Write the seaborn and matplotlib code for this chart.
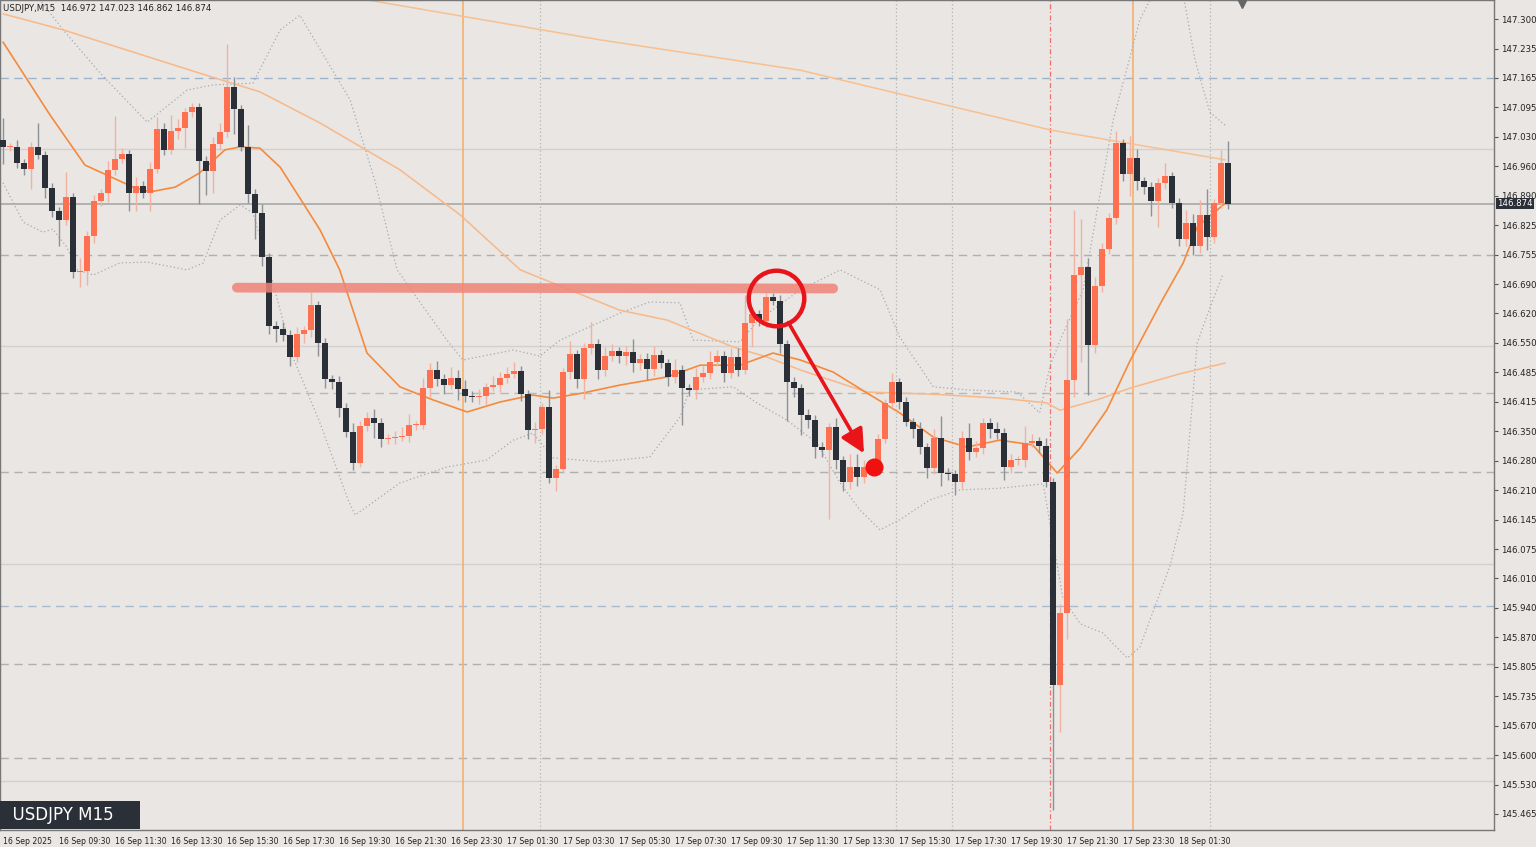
import matplotlib
matplotlib.use("Agg")
import matplotlib.pyplot as plt
import seaborn as sns
import numpy as np
import pandas as pd
from matplotlib.patches import FancyArrowPatch

first_open = 147.021
closes = [147.005,147.005,146.968,146.954,147.005,146.986,146.910,146.857,146.836,146.889,146.716,146.718,146.799,146.880,146.898,146.952,
146.977,146.988,146.898,146.915,146.898,146.954,147.046,146.998,147.042,147.049,147.085,147.097,146.972,146.949,147.012,147.039,
147.143,147.092,147.005,146.896,146.852,146.751,146.592,146.585,146.571,146.520,146.573,146.582,146.640,146.552,146.469,146.462,
146.402,146.347,146.275,146.361,146.379,146.368,146.331,146.333,146.335,146.338,146.363,146.363,146.448,146.490,146.469,146.455,
146.471,146.446,146.430,146.427,146.430,146.451,146.455,146.471,146.481,146.488,146.434,146.351,146.354,146.404,146.241,146.261,
146.485,146.527,146.469,146.541,146.550,146.490,146.522,146.534,146.522,146.531,146.506,146.515,146.492,146.525,146.506,146.474,
146.490,146.448,146.444,146.474,146.483,146.508,146.522,146.483,146.520,146.490,146.598,146.619,146.603,146.658,146.649,146.550,
146.462,146.448,146.386,146.375,146.312,146.305,146.358,146.282,146.231,146.266,146.243,146.266,146.271,146.331,146.414,146.462,
146.416,146.370,146.354,146.312,146.264,146.333,146.252,146.250,146.231,146.333,146.301,146.310,146.368,146.354,146.345,146.266,
146.282,146.282,146.321,146.326,146.314,146.231,145.763,145.929,146.467,146.709,146.728,146.548,146.684,146.769,146.841,147.014,
146.942,146.979,146.926,146.912,146.880,146.922,146.938,146.875,146.792,146.829,146.776,146.848,146.797,146.875,146.968,146.874]

upper_wick = [0.050,0.010,0.015,0.010,0.012,0.055,0.010,0.012,0.010,0.058,0.010,0.030,0.012,0.015,0.010,0.020,
0.100,0.014,0.010,0.020,0.012,0.015,0.028,0.015,0.037,0.020,0.010,0.010,0.010,0.012,0.015,0.020,
0.100,0.023,0.010,0.050,0.012,0.020,0.010,0.012,0.015,0.012,0.015,0.010,0.030,0.010,0.012,0.010,
0.015,0.012,0.020,0.010,0.015,0.020,0.012,0.010,0.015,0.020,0.025,0.010,0.023,0.015,0.020,0.012,
0.025,0.020,0.020,0.012,0.015,0.010,0.020,0.015,0.015,0.020,0.012,0.010,0.015,0.010,0.040,0.010,
0.010,0.030,0.010,0.012,0.050,0.012,0.020,0.015,0.010,0.015,0.030,0.012,0.015,0.020,0.012,0.010,
0.025,0.012,0.010,0.020,0.015,0.025,0.015,0.012,0.020,0.020,0.065,0.015,0.010,0.010,0.010,0.015,
0.010,0.012,0.010,0.015,0.010,0.012,0.010,0.020,0.010,0.030,0.030,0.015,0.010,0.012,0.010,0.020,
0.010,0.012,0.010,0.015,0.010,0.020,0.050,0.012,0.010,0.015,0.035,0.015,0.010,0.010,0.015,0.012,
0.015,0.010,0.040,0.015,0.010,0.020,0.010,0.020,0.140,0.150,0.110,0.020,0.020,0.015,0.012,0.028,
0.010,0.050,0.020,0.010,0.012,0.010,0.030,0.010,0.012,0.030,0.020,0.035,0.060,0.010,0.030,0.050]

lower_wick = [0.040,0.010,0.012,0.015,0.046,0.010,0.023,0.015,0.060,0.012,0.014,0.035,0.032,0.015,0.012,0.020,
0.012,0.010,0.040,0.040,0.012,0.040,0.010,0.012,0.010,0.020,0.046,0.012,0.100,0.055,0.050,0.015,
0.012,0.058,0.010,0.020,0.060,0.020,0.020,0.030,0.015,0.020,0.012,0.020,0.015,0.030,0.020,0.015,
0.020,0.012,0.015,0.010,0.012,0.035,0.020,0.012,0.015,0.010,0.015,0.012,0.010,0.020,0.015,0.020,
0.010,0.025,0.015,0.012,0.015,0.020,0.010,0.015,0.012,0.010,0.015,0.020,0.030,0.012,0.012,0.030,
0.010,0.015,0.020,0.045,0.015,0.020,0.015,0.012,0.015,0.020,0.020,0.015,0.025,0.015,0.012,0.020,
0.015,0.085,0.015,0.020,0.012,0.015,0.010,0.020,0.012,0.015,0.010,0.055,0.012,0.015,0.010,0.020,
0.090,0.020,0.046,0.020,0.025,0.015,0.160,0.020,0.020,0.015,0.020,0.015,0.012,0.010,0.010,0.012,
0.015,0.010,0.020,0.015,0.023,0.015,0.030,0.015,0.030,0.015,0.020,0.012,0.015,0.020,0.015,0.030,
0.015,0.012,0.015,0.010,0.015,0.012,0.289,0.108,0.060,0.040,0.200,0.115,0.020,0.015,0.012,0.015,
0.015,0.050,0.020,0.015,0.035,0.060,0.015,0.012,0.015,0.015,0.020,0.015,0.030,0.015,0.012,0.012]

fast_ma = [(0,147.247),(6.7,147.079),(11.7,146.963),(18.6,146.912),(21,146.901),(24.6,146.912),(28.1,146.945),
(31.7,146.998),(33.9,147.005),(36.7,147.002),(39.6,146.958),(42.4,146.887),(45.3,146.813),(48.1,146.721),
(52,146.529),(56.7,146.451),(61.4,146.421),(66.3,146.393),(71,146.416),(75.7,146.432),(78.6,146.425),
(82.9,146.437),(88.1,146.455),(94.9,146.474),(99.6,146.501),(105.3,146.501),(110,146.529),(113.9,146.513),
(118.6,146.485),(123.4,146.437),(128.1,146.391),(132.9,146.335),(137.7,146.312),(142.4,146.328),
(147.1,146.317),(150.6,146.252),(153.9,146.310),(157.7,146.398),(161,146.511),(165.7,146.654),
(168.6,146.737),(170.6,146.820),(174.6,146.875)]
mid_ma = [(0,147.312),(8.6,147.275),(28.1,147.175),(36.7,147.132),(45.3,147.060),(56.7,146.952),(65.3,146.848),
(73.9,146.721),(88.1,146.628),(94.9,146.605),(104.3,146.543),(109.1,146.520),(113.9,146.490),(123.4,146.439),
(132.9,146.434),(142.4,146.425),(149.1,146.414),(151,146.397),(156.3,146.421),(161,146.448),(168.1,146.481),
(174.6,146.506)]
slow_ma = [(0,147.471),(42.4,147.372),(53.9,147.339),(85.3,147.252),(113.9,147.182),(149.6,147.044),(174.6,146.975)]
bb_upper = [(2.4,147.413),(5.3,147.344),(8.6,147.275),(13.9,147.175),(20.6,147.062),(26.3,147.136),(30,147.148),
(35.7,147.152),(39.6,147.275),(42.4,147.309),(49.6,147.113),(53.1,146.928),(56.3,146.721),(63.4,146.559),
(65.7,146.513),(72.9,146.536),(76.7,146.522),(79.6,146.559),(88.1,146.621),(92.4,146.647),(96.7,146.645),
(98.6,146.559),(105.3,146.555),(107.9,146.605),(113.9,146.675),(119.6,146.721),(125.3,146.675),(128.1,146.566),
(132.9,146.451),(137.7,146.444),(144.9,146.439),(148.1,146.391),(149.6,146.501),(151.4,146.573),(154.3,146.675),
(158.6,147.067),(162.4,147.298),(165.3,147.390),(168.6,147.356),(170.3,147.205),(172.4,147.085),(174.6,147.055)]
bb_lower = [(0,146.922),(2.9,146.831),(5.7,146.808),(7.1,146.815),(9.1,146.774),(10.6,146.721),(12.9,146.709),
(16.7,146.737),(20.6,146.739),(26.3,146.721),(28.6,146.737),(31,146.836),(33.9,146.871),(35.7,146.852),
(37.7,146.744),(39.1,146.658),(41.4,146.520),(45.3,146.367),(49.3,146.190),(50.3,146.155),(56.7,146.229),
(63.4,146.266),(69.1,146.282),(72.9,146.328),(75.7,146.344),(78.6,146.287),(85.3,146.278),(92.4,146.289),
(96.7,146.381),(98.1,146.444),(104.3,146.451),(107.7,146.414),(112,146.374),(116.3,146.321),(119.6,146.229),
(122.4,146.167),(125.3,146.121),(128.1,146.144),(132.4,146.190),(136.7,146.213),(142.4,146.217),(148.6,146.227),
(151.4,145.964),(153.9,145.904),(157.1,145.883),(160.6,145.825),(162.4,145.850),(166.7,146.037),(168.6,146.160),
(170.6,146.552),(172.4,146.633),(174.3,146.711)]

x_labels = ["16 Sep 2025","16 Sep 09:30","16 Sep 11:30","16 Sep 13:30","16 Sep 15:30","16 Sep 17:30",
"16 Sep 19:30","16 Sep 21:30","16 Sep 23:30","17 Sep 01:30","17 Sep 03:30","17 Sep 05:30","17 Sep 07:30",
"17 Sep 09:30","17 Sep 11:30","17 Sep 13:30","17 Sep 15:30","17 Sep 17:30","17 Sep 19:30","17 Sep 21:30",
"17 Sep 23:30","18 Sep 01:30"]
y_labels = ["147.300","147.235","147.165","147.095","147.030","146.960","146.890","146.825","146.755","146.690",
"146.620","146.550","146.485","146.415","146.350","146.280","146.210","146.145","146.075","146.010","145.940",
"145.870","145.805","145.735","145.670","145.600","145.530","145.465"]
h_dashed = [(147.165,"#9DB3CC"),(146.755,"#B0B0B0"),(146.437,"#B8B8B8"),(146.254,"#B0B0B0"),
            (145.945,"#A9BBCF"),(145.812,"#B0B0B0"),(145.594,"#B0B0B0")]
h_solid = [147.000,146.545,146.041,145.542]
current_price = 146.874

BG = "#E9E6E3"
BULL = "#FF7050"
BEAR = "#2B3038"

sns.set_style("white")
plt.rcParams['font.family'] = ['DejaVu Sans']
fig = plt.figure(figsize=(15.36, 8.47), dpi=100, facecolor=BG)
ax = fig.add_axes([0.0, 17/847, 1494/1536, 830/847])
ax.set_facecolor(BG)

n = len(closes)
opens = [first_open] + closes[:-1]
ymin, ymax = 145.428, 147.344
ax.set_xlim(-0.43, 213)
ax.set_ylim(ymin, ymax)

for y, c in h_dashed:
    ax.axhline(y, color=c, lw=1, ls=(0, (6, 4)), zorder=1)
for y in h_solid:
    ax.axhline(y, color="#D3D0CD", lw=1, zorder=1)
ax.axhline(current_price, color="#A8A8A8", lw=1.2, zorder=1)
for xv in [65.7, 161.4]:
    ax.axvline(xv, color="#F5B070", lw=1.2, zorder=1)
for xv in [76.7, 127.6, 135.6, 172.4]:
    ax.axvline(xv, color="#B5B5B5", lw=0.9, ls=(0, (1, 2)), zorder=1)
ax.axvline(149.6, color="#F07070", lw=0.9, ls=(0, (4, 2, 1, 2)), zorder=1)

def draw_line(pts, color, lw, ls="-"):
    df = pd.DataFrame(pts, columns=["x", "y"])
    sns.lineplot(data=df, x="x", y="y", ax=ax, color=color, lw=lw, linestyle=ls, zorder=2, estimator=None, sort=False)

draw_line(bb_upper, "#A9A9B0", 0.9, (0, (1, 2)))
draw_line(bb_lower, "#A9A9B0", 0.9, (0, (1, 2)))
draw_line(slow_ma, "#F8C090", 1.1)
draw_line(mid_ma, "#F8B888", 1.1)
draw_line(fast_ma, "#F58A3C", 1.2)

for i in range(n):
    o, c = opens[i], closes[i]
    bull = c >= o
    hi = max(o, c) + upper_wick[i]
    lo = min(o, c) - lower_wick[i]
    ax.vlines(i, lo, hi, color="#F2B2A2" if bull else "#8E9297", lw=1, zorder=3)
    h = max(abs(c - o), 0.0015)
    ax.bar(i, h, bottom=min(o, c), width=0.72, color=BULL if bull else BEAR, zorder=4, linewidth=0)

# annotations
ax.plot([33.4, 118.6], [146.680, 146.678], color="#F08478", lw=7, alpha=0.85, solid_capstyle="round", zorder=5)
ax.plot([110.4], [146.656], marker="o", ms=40, mfc="none", mec="#E8141A", mew=3.2, zorder=6)
ax.add_patch(FancyArrowPatch((112, 146.605), (123.2, 146.292), arrowstyle="-|>,head_length=12,head_width=6",
                             color="#E8141A", lw=2.6, zorder=6, mutation_scale=1.2))
ax.plot([124.4], [146.266], marker="o", ms=12, color="#F01010", zorder=6)

ax.set_xticks(np.arange(0, 8 * len(x_labels), 8))
ax.set_xticklabels(x_labels, fontsize=5.6, ha="left")
ticks = np.linspace(147.300, 145.465, len(y_labels))
ax.yaxis.tick_right()
ax.set_yticks(ticks)
ax.set_yticklabels(y_labels, fontsize=6.2)
ax.tick_params(axis="both", length=3, color="#555555", labelcolor="#222222", pad=2)
ax.set_xlabel(""); ax.set_ylabel("")
for s in ax.spines.values():
    s.set_color("#777777"); s.set_linewidth(1)

ax.text(1.002, current_price, "146.874", transform=ax.get_yaxis_transform(),
        fontsize=6.2, color="white", va="center", ha="left",
        bbox=dict(boxstyle="square,pad=0.15", fc="#2B3038", ec="none"), zorder=10, clip_on=False)
ax.text(0.002, 0.995, "USDJPY,M15  146.972 147.023 146.862 146.874", transform=ax.transAxes,
        fontsize=6.2, color="#222222", va="top", ha="left")
fig.text(2/1536, 1 - 815/847, "  USDJPY M15    ", fontsize=12, color="white", va="center", ha="left",
         bbox=dict(boxstyle="square,pad=0.3", fc="#2B3038", ec="none"))
ax.plot([177.0], [147.335], marker="v", ms=6, color="#666666", zorder=7, clip_on=False)

fig.savefig("out.png", dpi=100, facecolor=BG)
